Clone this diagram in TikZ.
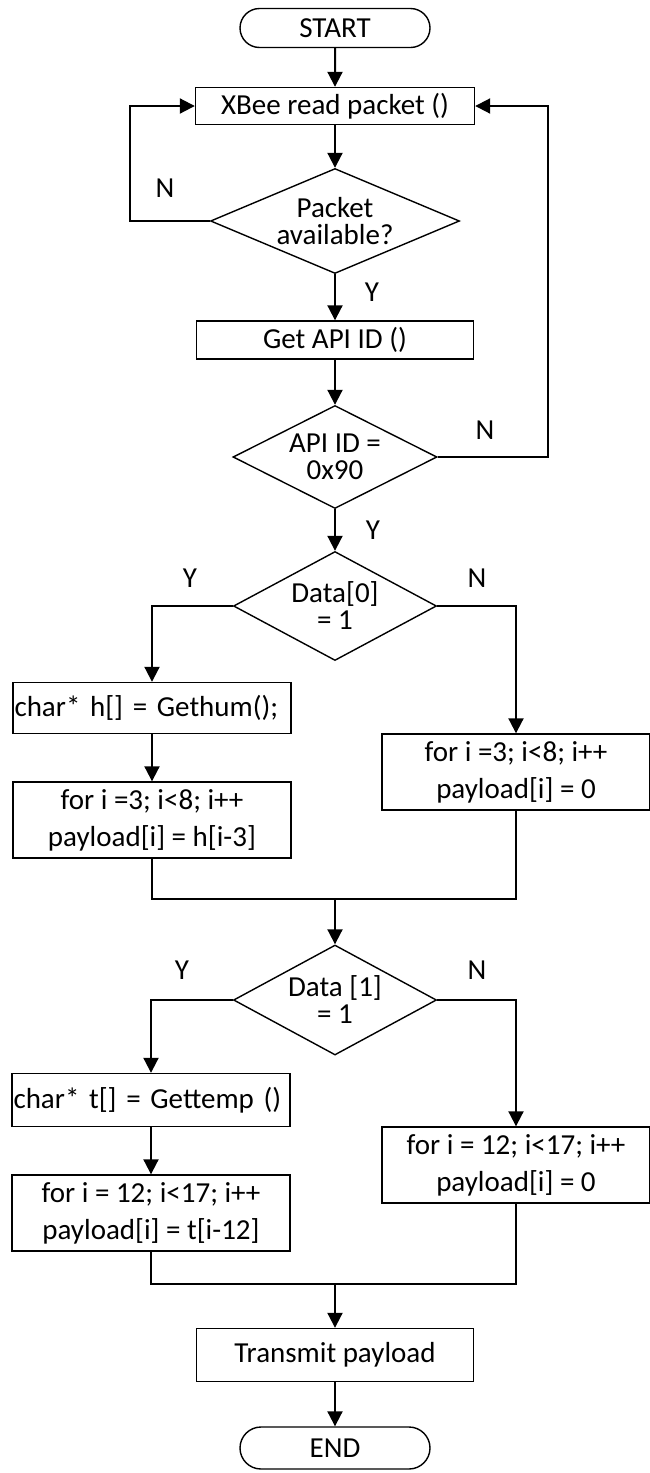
\documentclass[tikz,border=0pt]{standalone}
\usepackage{fontspec}
\setmainfont{Carlito}
\usetikzlibrary{shapes,arrows.meta}
\usetikzlibrary{calc}

\begin{document}
\begin{tikzpicture}[%
		x=1pt, y=-1pt,
		>={Triangle[length=15pt,width=15pt]},
		font=\fontsize{29}{37}\selectfont,
		term/.style={rounded rectangle, draw, line width=1.4pt, inner sep=0pt, minimum width=190pt, minimum height=39pt},
		proc/.style={rectangle, draw, line width=1.4pt, inner sep=0pt, align=center, minimum width=278pt},
		code/.style={proc, text width=275pt, align=left, inner xsep=1.5pt},
		dec/.style={diamond, draw, line width=1.4pt, inner sep=0pt, aspect=2, align=center, font=\fontsize{29}{27}\selectfont},
		flow/.style={line width=2pt}
		]
		\useasboundingbox (0,0) rectangle (650,1473);
		%%%%%%%%%%%%%%%
		%    NODES    %
		%%%%%%%%%%%%%%%
		\node[term] (start) at (335, 28) {START};
		\node[proc, minimum width=279pt, minimum height=37pt] (read) at (335, 106) {XBee read packet ()};
		\node[dec, aspect=2.4, minimum width=249pt, minimum height=105pt] (avail) at (335, 221) {Packet\\available?};
		\node[proc, minimum width=277pt, minimum height=38pt] (getid) at (335, 340) {Get API ID ()};
		\node[dec, minimum width=204pt, minimum height=103pt] (apiid) at (335, 457) {API ID =\\0x90};
		
		% humidity
		\node[dec, minimum width=203pt, minimum height=109pt] (data0) at (335, 606) {Data[0]\\= 1};
		\node[code, minimum height=51pt] (gethum) at (152, 708) {char* h[] = Gethum();};
		\node[proc, minimum height=76pt] (forh) at (152, 820) {for i =3; i<8; i++\\payload[i] = h[i-3]};
		\node[proc, minimum width=268pt, minimum height=76pt] (zero0) at (516, 772) {for i =3; i<8; i++\\payload[i] = 0};
		\coordinate (join0) at (335, 899);
		
		% temperature
		\node[dec, minimum width=203pt, minimum height=110pt] (data1) at (335, 1000) {Data [1]\\= 1};
		\node[code, minimum height=53pt] (gettemp) at (151, 1100) {char* t[] = Gettemp ()};
		\node[proc, minimum height=76pt] (fort) at (151, 1213) {for i = 12; i<17; i++\\payload[i] = t[i-12]};
		\node[proc, minimum width=268pt, minimum height=76pt] (zero1) at (516, 1165) {for i = 12; i<17; i++\\payload[i] = 0};
		\coordinate (join1) at (335, 1284);
		
		\node[proc, minimum width=277pt, minimum height=53pt] (send) at (335, 1355) {Transmit payload};
		\node[term, minimum height=42pt] (stop) at (335, 1448) {END};
		
		% labels
		\node (noavail) at (165, 188) {N};
		\node (yavail) at (372, 292) {Y};
		\node (noapi) at (485, 430) {N};
		\node (yapi) at (373, 530) {Y};
		\node (yhum) at (190, 578) {Y};
		\node (nohum) at (477, 578) {N};
		\node (ytemp) at (182, 970) {Y};
		\node (notemp) at (477, 970) {N};
		
		%%%%%%%%%%%%%%%
		% CONNECTIONS %
		%%%%%%%%%%%%%%%
		\draw[flow, ->] (start) -- (read);
		\draw[flow, ->] (read) -- (avail);
		\draw[flow, ->] (avail.west) -- ++(-80,0) |- (read.west);
		\draw[flow, ->] (avail) -- (getid);
		\draw[flow, ->] (getid) -- (apiid);
		\draw[flow, ->] (apiid.east) -- ++(110,0) |- (read.east);
		\draw[flow, ->] (apiid) -- (data0);
		
		\draw[flow, ->] (data0.west) -| (gethum.north);
		\draw[flow, ->] (data0.east) -| (zero0.north);
		\draw[flow, ->] (gethum) -- (forh);
		\draw[flow] (forh.south) |- (join0) -| (zero0.south);
		\draw[flow, ->] (join0) -- (data1);
		
		\draw[flow, ->] (data1.west) -| (gettemp.north);
		\draw[flow, ->] (data1.east) -| (zero1.north);
		\draw[flow, ->] (gettemp) -- (fort);
		\draw[flow] (fort.south) |- (join1) -| (zero1.south);
		\draw[flow, ->] (join1) -- (send);
		\draw[flow, ->] (send) -- (stop);
	\end{tikzpicture}
\end{document}
